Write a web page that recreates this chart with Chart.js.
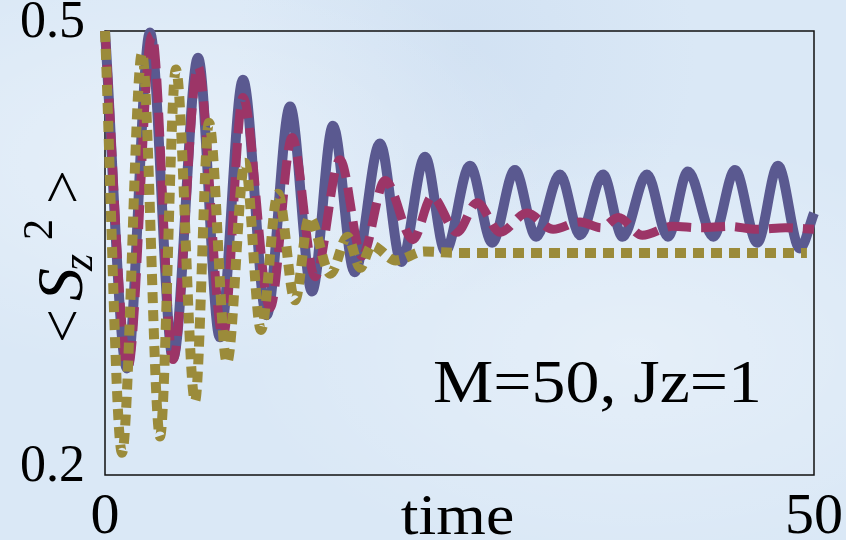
<!DOCTYPE html>
<html>
<head>
<meta charset="utf-8">
<script src="https://cdn.jsdelivr.net/npm/chart.js@4/dist/chart.umd.min.js"></script>
<style>
  html, body { margin: 0; padding: 0; }
  body {
    background-color: #dae8f6;
    background-image:
      radial-gradient(ellipse at 20% 30%, rgba(255,255,255,0.35), rgba(255,255,255,0) 40%),
      radial-gradient(ellipse at 75% 65%, rgba(255,255,255,0.3), rgba(255,255,255,0) 45%),
      radial-gradient(ellipse at 55% 10%, rgba(190,210,235,0.3), rgba(190,210,235,0) 35%);
  }
  #wrap { width: 846px; height: 540px; position: relative; }
</style>
</head>
<body>
<div id="wrap"><canvas id="szChart"></canvas></div>
<script>
// ===============================
// DATA
// ===============================
const xTicks = [0, 50];
const yTicks = [0.2, 0.5];

// solid line: peaks and troughs
const solidTime = [0, 1.55, 3.17, 4.8, 6.56, 8.1, 9.73, 11.4, 13.05, 14.6, 16.08, 17.6, 19.39, 20.9,
  22.57, 24.0, 25.74, 27.3, 28.91, 30.4, 32.09, 33.5, 35.12, 36.5, 38.22, 39.7, 41.11, 42.9,
  44.43, 46.0, 47.46, 49.0, 50];
const solidSz2 = [0.5, 0.272, 0.499, 0.279, 0.482, 0.293, 0.467, 0.308, 0.449, 0.324, 0.436, 0.337, 0.424, 0.344,
  0.415, 0.351, 0.409, 0.357, 0.406, 0.361, 0.403, 0.362, 0.403, 0.361, 0.403, 0.361, 0.405, 0.361,
  0.406, 0.357, 0.409, 0.353, 0.377];

// dashed line
const dashedTime = [0, 1.62, 3.31, 4.8, 6.56, 8.32, 9.73, 11.64, 13.19, 14.81, 16.57, 18.12, 19.75, 21.72,
  23.06, 24.82, 26.23, 27.86, 29.76, 31.6, 33.5, 35.0, 36.2, 37.9, 40, 42, 44, 46, 48, 50];
const dashedSz2 = [0.5, 0.273, 0.497, 0.278, 0.476, 0.293, 0.455, 0.313, 0.428, 0.334, 0.413, 0.348, 0.399, 0.359,
  0.388, 0.364, 0.384, 0.364, 0.377, 0.366, 0.371, 0.367, 0.374, 0.362, 0.368, 0.367, 0.368, 0.366, 0.367, 0.366];

// dotted line
const dottedTime = [0, 1.2, 2.61, 3.88, 5.0, 6.35, 7.33, 8.6, 9.87, 11.0, 12.2, 13.4, 14.4, 15.9,
  17.1, 18.0, 18.8, 20.5, 22.5, 25, 30, 35, 40, 45, 49.5];
const dottedSz2 = [0.5, 0.215, 0.485, 0.226, 0.474, 0.25, 0.438, 0.276, 0.411, 0.298, 0.39, 0.318, 0.374, 0.336,
  0.361, 0.34, 0.355, 0.345, 0.351, 0.35, 0.35, 0.35, 0.35, 0.35, 0.35];

const toPoints = (ts, vs) => ts.map((t, i) => ({ x: t, y: vs[i] }));

const serif = "'Liberation Serif', 'Times New Roman', serif";

// ===============================
// EXTRA DRAWING (frame, titles, note)
// ===============================
const decorations = {
  id: "decorations",
  beforeDatasetsDraw(chart) {
    const { ctx, chartArea: a } = chart;
    ctx.save();
    ctx.strokeStyle = "#111";
    ctx.lineWidth = 1.5;
    ctx.strokeRect(a.left, a.top, a.right - a.left, a.bottom - a.top);
    ctx.restore();
  },
  afterDraw(chart) {
    const { ctx, chartArea: a } = chart;
    ctx.save();
    ctx.fillStyle = "#000";

    // x title in the tick row
    ctx.textAlign = "center";
    ctx.textBaseline = "alphabetic";
    ctx.font = "58px " + serif;
    ctx.save();
    ctx.translate((a.left + a.right) / 2 - 2, 534);
    ctx.scale(1.1, 1);
    ctx.fillText("time", 0, 0);
    ctx.restore();

    // note
    ctx.font = "62px " + serif;
    ctx.textAlign = "left";
    const note = "M=50, Jz=1";
    const w = ctx.measureText(note).width;
    ctx.save();
    ctx.translate(433, 402);
    ctx.scale(329 / w, 1);
    ctx.fillText(note, 0, 0);
    ctx.restore();

    // y title <S_z^2>, rotated
    ctx.save();
    ctx.translate(82, 343);
    ctx.rotate(-Math.PI / 2);
    ctx.textAlign = "left";
    ctx.font = "60px " + serif;
    ctx.fillText("<", 0, 0);
    ctx.font = "italic 66px " + serif;
    ctx.fillText("S", 42, 0);
    ctx.font = "italic 44px " + serif;
    ctx.fillText("z", 72, 10);
    ctx.font = "42px " + serif;
    ctx.fillText("2", 103, -30);
    ctx.font = "60px " + serif;
    ctx.fillText(">", 139, 0);
    ctx.restore();

    ctx.restore();
  }
};

// ===============================
// CHART
// ===============================
const ctx = document.getElementById("szChart");

new Chart(ctx, {
  type: "line",
  data: {
    datasets: [
      {
        label: "dotted",
        data: toPoints(dottedTime, dottedSz2),
        borderColor: "#9b8b3a",
        borderWidth: 10,
        borderDash: [11, 7],
        borderCapStyle: "butt",
        cubicInterpolationMode: "monotone",
        pointRadius: 0,
        clip: false,
        order: 0
      },
      {
        label: "dashed",
        data: toPoints(dashedTime, dashedSz2),
        borderColor: "#9c3567",
        borderWidth: 9,
        borderDash: [24, 10],
        borderCapStyle: "butt",
        cubicInterpolationMode: "monotone",
        pointRadius: 0,
        clip: false,
        order: 1
      },
      {
        label: "solid",
        data: toPoints(solidTime, solidSz2),
        borderColor: "#5a5990",
        borderWidth: 10,
        cubicInterpolationMode: "monotone",
        pointRadius: 0,
        clip: false,
        order: 2
      }
    ]
  },
  options: {
    responsive: true,
    maintainAspectRatio: false,
    animation: false,
    layout: { padding: { top: 31, right: 32, left: 0, bottom: 0 } },
    plugins: {
      legend: { display: false },
      tooltip: { enabled: false }
    },
    scales: {
      x: {
        type: "linear",
        min: 0,
        max: 50,
        afterBuildTicks: s => { s.ticks = xTicks.map(v => ({ value: v })); },
        afterFit: s => { s.height = 65; s.paddingLeft = 0; s.paddingRight = 0; },
        grid: { display: false, drawTicks: false },
        border: { display: false },
        ticks: {
          color: "#000",
          font: { family: serif, size: 58 },
          padding: 8,
          maxRotation: 0,
          autoSkip: false
        }
      },
      y: {
        min: 0.2,
        max: 0.5,
        afterBuildTicks: s => { s.ticks = yTicks.map(v => ({ value: v })); },
        afterFit: s => { s.width = 105; s.paddingTop = 0; s.paddingBottom = 0; },
        grid: { display: false, drawTicks: false },
        border: { display: false },
        ticks: {
          color: "#000",
          font: { family: serif, size: 52 },
          padding: 20,
          labelOffset: -8,
          autoSkip: false,
          callback: v => v.toFixed(1)
        }
      }
    }
  },
  plugins: [decorations]
});
</script>
</body>
</html>
